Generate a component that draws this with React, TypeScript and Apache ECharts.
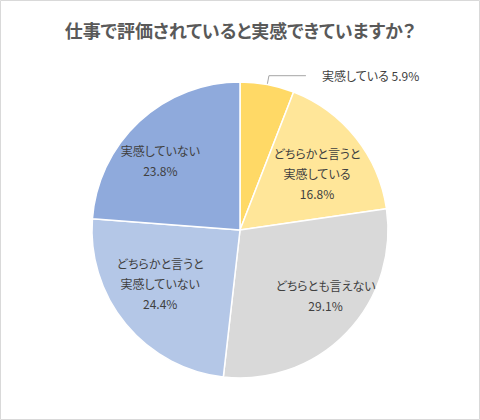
import { useEffect, useRef } from 'react';
import * as echarts from 'echarts';

// 回答カテゴリと割合(%)
const categories = [
    '実感している',
    'どちらかと言うと実感している',
    'どちらとも言えない',
    'どちらかと言うと実感していない',
    '実感していない'
];
const shares = [5.9, 16.8, 29.1, 24.4, 23.8];
const sliceColors = ['#FFD966', '#FFE699', '#D9D9D9', '#B4C7E7', '#8FAADC'];
// 内側ラベルの微調整 (Excel の配置に合わせる)
const labelNudges: [number, number][] = [[0, 0], [-2, 6], [13, -5], [-2, -11], [-11, 5]];

const title = '仕事で評価されていると実感できていますか？';
const fontFamily = "'Noto Sans CJK JP', 'Noto Sans', sans-serif";

export default function App() {
    const chartRef = useRef<HTMLDivElement>(null);

    useEffect(() => {
        document.body.style.margin = '0';
        if (!chartRef.current) return;
        const chart = echarts.init(chartRef.current, null, { renderer: 'svg' });

        const center = [240, 230];
        const radius = 148;

        const option: echarts.EChartsOption = {
            animation: false,
            backgroundColor: '#fff',
            title: {
                text: title,
                left: 'center',
                top: 16,
                textStyle: { fontFamily, fontSize: 18, fontWeight: 'bold', color: '#595959' }
            },
            graphic: [
                {
                    type: 'rect',
                    shape: { x: 0.5, y: 0.5, width: 479, height: 419 },
                    style: { fill: 'none', stroke: '#D9D9D9', lineWidth: 1 },
                    silent: true
                }
            ],
            series: [
                {
                    type: 'pie',
                    center,
                    radius,
                    startAngle: 90,
                    clockwise: true,
                    avoidLabelOverlap: false,
                    itemStyle: { borderColor: '#fff', borderWidth: 1.5 },
                    data: categories.map((name, i) => ({
                        name,
                        value: shares[i],
                        itemStyle: { color: sliceColors[i] },
                        label: i === 0
                            ? {
                                show: true,
                                position: 'outside',
                                alignTo: 'none',
                                formatter: `${name} ${shares[i].toFixed(1)}%`,
                                fontFamily, fontSize: 12, color: '#404040',
                                distanceToLabelLine: 16
                            }
                            : { show: false },
                        labelLine: i === 0
                            ? { show: true, length: 9, length2: 37, lineStyle: { color: '#A6A6A6', width: 1 } }
                            : { show: false }
                    })),
                    emphasis: { disabled: true }
                },
                {
                    // ラベル専用の透明リング (ラベルを半径の約2/3に置く)
                    type: 'pie',
                    center,
                    radius: [48, radius],
                    startAngle: 90,
                    clockwise: true,
                    silent: true,
                    avoidLabelOverlap: false,
                    itemStyle: { color: 'transparent', borderWidth: 0 },
                    labelLine: { show: false },
                    data: categories.map((name, i) => ({
                        name,
                        value: shares[i],
                        label: {
                            show: i !== 0,
                            position: 'inside',
                            offset: labelNudges[i],
                            formatter: `${name.replace('どちらかと言うと', 'どちらかと言うと\n')}\n${shares[i].toFixed(1)}%`,
                            fontFamily, fontSize: 12, lineHeight: 20, color: '#404040'
                        }
                    })),
                    emphasis: { disabled: true }
                }
            ]
        };

        chart.setOption(option);
        return () => {
            chart.dispose();
        };
    }, []);

    return (
        <div style={{ width: 480, height: 420 }}>
            <style>{`svg text { font-feature-settings: "palt" 1 !important; }`}</style>
            <div ref={chartRef} style={{ width: 480, height: 420 }} />
        </div>
    );
}
